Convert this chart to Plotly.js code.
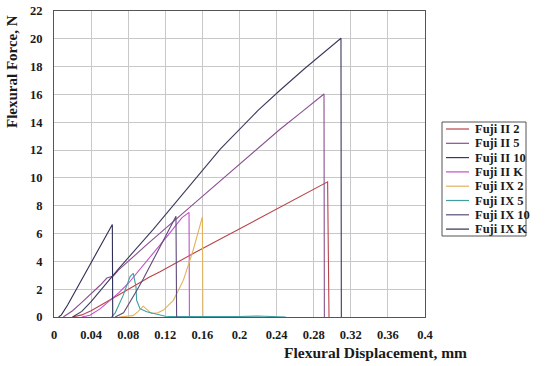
<!DOCTYPE html>
<html>
<head>
<meta charset="utf-8">
<script src="https://cdn.plot.ly/plotly-3.0.1.min.js"></script>
<style>html,body{margin:0;padding:0;background:#fff;}#chart{width:550px;height:366px;}</style>
</head>
<body>
<div id="chart"></div>
<script>
// ---- data ----
var seriesNames = ["Fuji II 2", "Fuji II 5", "Fuji II 10", "Fuji II K", "Fuji IX 2", "Fuji IX 5", "Fuji IX 10", "Fuji IX K"];
var seriesColors = ["#b8454a", "#8a4f8f", "#3c3a5c", "#c34fc8", "#e3b25e", "#3f9ea0", "#5e4a7a", "#2f2e55"];

var fujiII2_x = [0.02, 0.03, 0.04, 0.05, 0.07, 0.1035, 0.1143, 0.15, 0.2, 0.222, 0.25, 0.275, 0.295, 0.2965];
var fujiII2_y = [0, 0.15, 0.45, 0.85, 1.6, 2.89, 3.26, 4.56, 6.36, 7.15, 8.1, 9.0, 9.72, 0];

var fujiII5_x = [0.01, 0.02, 0.03, 0.04, 0.05, 0.057, 0.064, 0.07, 0.1, 0.15, 0.18, 0.22, 0.2437, 0.2652, 0.2911, 0.2915];
var fujiII5_y = [0, 0.45, 1.05, 1.65, 2.3, 2.8, 2.95, 3.4, 5.2, 8.1, 9.84, 12.1, 13.5, 14.64, 16.03, 0];

var fujiII10_x = [0.02, 0.03, 0.04, 0.05, 0.07, 0.107, 0.154, 0.167, 0.179, 0.19, 0.2, 0.22, 0.2437, 0.27, 0.3094, 0.3098];
var fujiII10_y = [0, 0.4, 1.1, 1.9, 3.5, 6.3, 10.08, 11.15, 12.05, 12.8, 13.5, 14.85, 16.3, 17.85, 20.04, 0];

var fujiIIK_x = [0.03, 0.0388, 0.05, 0.06, 0.07, 0.08, 0.09, 0.1, 0.1215, 0.138, 0.1448, 0.1456, 0.146];
var fujiIIK_y = [0, 0.13, 0.6, 1.15, 1.75, 2.41, 3.2, 4.0, 5.76, 7.15, 7.45, 7.52, 0];

var fujiIX2_x = [0.07, 0.0747, 0.085, 0.09, 0.0963, 0.1, 0.105, 0.112, 0.118, 0.1287, 0.1395, 0.15, 0.16, 0.1605];
var fujiIX2_y = [0, 0.02, 0.1, 0.35, 0.78, 0.55, 0.25, 0.3, 0.5, 1.2, 2.65, 4.8, 7.2, 0];

var fujiIX5_x = [0.062, 0.066, 0.0747, 0.082, 0.0855, 0.0884, 0.0891, 0.0927, 0.1, 0.11, 0.12, 0.13, 0.16, 0.2, 0.22, 0.24, 0.25];
var fujiIX5_y = [0, 0.3, 1.57, 2.9, 3.13, 2.17, 1.2, 0.6, 0.37, 0.2, 0.05, 0.03, 0.02, 0.04, 0.07, 0.04, 0];

var fujiIX10_x = [0.066, 0.075, 0.09, 0.0963, 0.11, 0.1315, 0.1322];
var fujiIX10_y = [0, 0.3, 2.0, 2.75, 4.5, 7.25, 0];

var fujiIXK_x = [0.005, 0.008, 0.015, 0.025, 0.035, 0.045, 0.055, 0.0629, 0.0633];
var fujiIXK_y = [0, 0.15, 0.9, 2.1, 3.35, 4.55, 5.7, 6.65, 0];

var xTickVals = [0, 0.04, 0.08, 0.12, 0.16, 0.2, 0.24, 0.28, 0.32, 0.36, 0.4];
var xTickText = ["0", "0.04", "0.08", "0.12", "0.16", "0.2", "0.24", "0.28", "0.32", "0.36", "0.4"];
var yTickVals = [0, 2, 4, 6, 8, 10, 12, 14, 16, 18, 20, 22];
var xTitle = "Flexural Displacement, mm";
var yTitle = "Flexural Force, N";

// ---- chart ----
var xs = [fujiII2_x, fujiII5_x, fujiII10_x, fujiIIK_x, fujiIX2_x, fujiIX5_x, fujiIX10_x, fujiIXK_x];
var ys = [fujiII2_y, fujiII5_y, fujiII10_y, fujiIIK_y, fujiIX2_y, fujiIX5_y, fujiIX10_y, fujiIXK_y];

var traces = seriesNames.map(function (n, i) {
  return {x: xs[i], y: ys[i], name: n, type: 'scatter', mode: 'lines',
          line: {color: seriesColors[i], width: 1.1}, showlegend: false, hoverinfo: 'skip'};
});

var L = 54, R = 425, T = 11, B = 317;
function px(x) { return (x - L) / (R - L); }
function py(y) { return (B - y) / (B - T); }

var FONT = "Liberation Serif, Times New Roman, serif";
var shapes = [];
var annotations = [];

// legend box (manual)
shapes.push({type: 'rect', xref: 'paper', yref: 'paper', x0: px(442), x1: px(526), y0: py(236), y1: py(122),
             line: {color: '#555', width: 1}, fillcolor: 'rgba(0,0,0,0)'});
seriesNames.forEach(function (n, i) {
  var cy = 129 + 14.3 * i;
  shapes.push({type: 'line', xref: 'paper', yref: 'paper', x0: px(446), x1: px(469), y0: py(cy), y1: py(cy),
               line: {color: seriesColors[i], width: 1.2}});
  annotations.push({xref: 'paper', yref: 'paper', x: px(473), y: py(cy), xanchor: 'left', yanchor: 'middle',
                    text: n, showarrow: false, font: {family: FONT, size: 12.5, color: '#1a1a1a', weight: 700}});
});

annotations.push({xref: 'paper', yref: 'paper', x: px(375), y: py(352), xanchor: 'center', yanchor: 'middle',
                  text: xTitle, showarrow: false, font: {family: FONT, size: 15.5, color: '#1a1a1a', weight: 700}});
annotations.push({xref: 'paper', yref: 'paper', x: px(12), y: py(72), xanchor: 'center', yanchor: 'middle',
                  text: yTitle, textangle: -90, showarrow: false, font: {family: FONT, size: 15, color: '#1a1a1a', weight: 700}});

var layout = {
  width: 550, height: 366,
  margin: {l: L, r: 550 - R, t: T, b: 366 - B, pad: 0},
  paper_bgcolor: '#fff', plot_bgcolor: '#fff',
  showlegend: false,
  font: {family: FONT, size: 12, color: '#1a1a1a', weight: 700},
  xaxis: {range: [0, 0.4], tickvals: xTickVals, ticktext: xTickText, showgrid: true, gridcolor: '#c8c8c8', gridwidth: 1,
          zeroline: false, showline: true, linecolor: '#555', linewidth: 1, mirror: true, ticks: '',
          ticklabelstandoff: 6, tickfont: {family: FONT, size: 12.5, color: '#1a1a1a', weight: 700}},
  yaxis: {range: [0, 22], tickvals: yTickVals, showgrid: true, gridcolor: '#c8c8c8', gridwidth: 1,
          zeroline: false, showline: true, linecolor: '#555', linewidth: 1, mirror: true, ticks: '',
          ticklabelstandoff: 8, tickfont: {family: FONT, size: 12.5, color: '#1a1a1a', weight: 700}},
  shapes: shapes,
  annotations: annotations
};

Plotly.newPlot('chart', traces, layout, {staticPlot: true, displayModeBar: false});
</script>
</body>
</html>
